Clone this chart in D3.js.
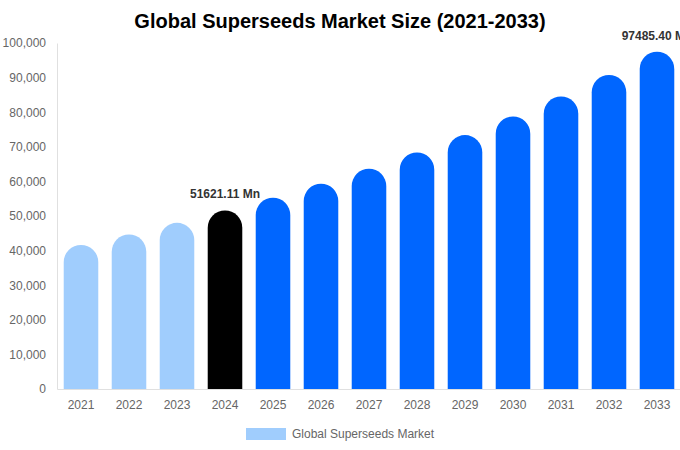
<!DOCTYPE html>
<html>
<head>
<meta charset="utf-8">
<script src="https://cdn.jsdelivr.net/npm/d3@7"></script>
<style>
  body { margin: 0; background: #fff; }
  text { font-family: "Liberation Sans", Arial, sans-serif; }
</style>
</head>
<body>
<div id="chart"></div>
<script>
var years = ["2021", "2022", "2023", "2024", "2025", "2026", "2027", "2028", "2029", "2030", "2031", "2032", "2033"];
var marketSize = [41650, 44650, 48030, 51621.11, 55270, 59320, 63660, 68370, 73380, 78790, 84580, 90740, 97485.40];
var yTicks = [0, 10000, 20000, 30000, 40000, 50000, 60000, 70000, 80000, 90000, 100000];
var labelled = ["2024", "2033"];

var width = 680, height = 450;
var margin = { top: 43, right: -1, bottom: 61, left: 57 };

var svg = d3.select("#chart").append("svg")
	.attr("width", width)
	.attr("height", height);

var x = d3.scaleBand()
	.domain(years)
	.range([margin.left, width - margin.right])
	.paddingInner(0.28)
	.paddingOuter(0.14);

var y = d3.scaleLinear()
	.domain([0, 100000])
	.range([height - margin.bottom, margin.top]);

function barColor(d) {
	if (+d < 2024) { return "#a0cdfd"; }
	else if (d == "2024") { return "#000000"; }
	return "#0066ff";
}

// title
svg.append("text")
	.attr("x", 340)
	.attr("y", 28)
	.attr("text-anchor", "middle")
	.style("font-size", "20px")
	.style("font-weight", "bold")
	.style("fill", "#000")
	.text("Global Superseeds Market Size (2021-2033)");

// y axis
var yAxis = svg.append("g")
	.attr("transform", "translate(" + margin.left + ",0)")
	.call(d3.axisLeft(y).tickValues(yTicks).tickSize(0).tickPadding(11).tickFormat(d3.format(",")));
yAxis.select(".domain").attr("stroke", "#e0e0e0");
yAxis.selectAll("text").style("font-size", "12px").style("fill", "#666");

// x axis
var xAxis = svg.append("g")
	.attr("transform", "translate(0," + y(0) + ")")
	.call(d3.axisBottom(x).tickSize(0).tickPadding(11));
xAxis.select(".domain").attr("stroke", "#e0e0e0");
xAxis.selectAll("text").style("font-size", "12px").style("fill", "#666");

// bars with round tops
function barPath(d, i) {
	var x0 = x(d), w = x.bandwidth(), r = w / 2;
	var yTop = y(marketSize[i]), yBase = y(0);
	return "M" + x0 + "," + yBase +
		"L" + x0 + "," + (yTop + r) +
		"A" + r + "," + r + " 0 0 1 " + (x0 + w) + "," + (yTop + r) +
		"L" + (x0 + w) + "," + yBase + "Z";
}

svg.selectAll("path.bar")
	.data(years)
	.enter()
	.append("path")
	.attr("class", "bar")
	.attr("d", barPath)
	.style("fill", barColor);

// value labels
svg.selectAll("text.value")
	.data(years.filter(function (d) { return labelled.indexOf(d) >= 0; }))
	.enter()
	.append("text")
	.attr("class", "value")
	.attr("x", function (d) { return x(d) + x.bandwidth() / 2; })
	.attr("y", function (d) { return y(marketSize[years.indexOf(d)]) - 12; })
	.attr("text-anchor", "middle")
	.style("font-size", "12px")
	.style("font-weight", "bold")
	.style("fill", "#333")
	.text(function (d) { return marketSize[years.indexOf(d)].toFixed(2) + " Mn"; });

// legend
svg.append("rect")
	.attr("x", 246)
	.attr("y", 428)
	.attr("width", 40)
	.attr("height", 12)
	.style("fill", "#a0cdfd");
svg.append("text")
	.attr("x", 292)
	.attr("y", 438)
	.style("font-size", "12px")
	.style("fill", "#666")
	.text("Global Superseeds Market");
</script>
</body>
</html>
